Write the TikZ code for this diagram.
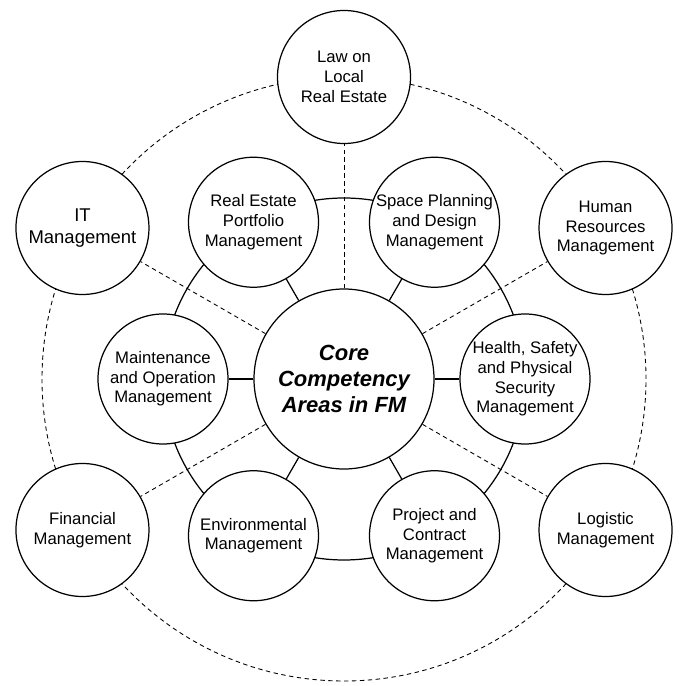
\documentclass[tikz,border=0pt]{standalone}
\usepackage{fontspec}
\setmainfont{Liberation Sans}
\usetikzlibrary{backgrounds}

\begin{document}
\begin{tikzpicture}[
    core/.style={circle, draw, fill=white, line width=0.7pt, minimum size=3.6cm,
                 inner sep=0pt, align=center,
                 font=\fontsize{12.5}{15}\selectfont\bfseries\itshape},
    area/.style={circle, draw, fill=white, line width=0.7pt, minimum size=2.6cm,
                 inner sep=0pt, align=center, font=\fontsize{9.5}{11.2}\selectfont},
    outer/.style={area, minimum size=2.66cm},
    spoke/.style={line width=0.7pt},
    link/.style={line width=0.5pt, dash pattern=on 2.5pt off 2pt},
]
\useasboundingbox (-6.88,-6.14) rectangle (6.74,7.58);

% Centre
\node[core] (core) at (0,0) {Core\\Competency\\Areas in FM};

% Inner ring of competency areas
\node[area] (portfolio) at (120:3.62) {Real Estate\\Portfolio\\Management};
\node[area] (space)     at (60:3.62)  {Space Planning\\and Design\\Management};
\node[area] (health)    at (0:3.62)   {Health, Safety\\and Physical\\Security\\Management};
\node[area] (project)   at (-60:3.62) {Project and\\Contract\\Management};
\node[area] (environ)   at (-120:3.62) {Environmental\\Management};
\node[area] (maint)     at (180:3.62) {Maintenance\\and Operation\\Management};

% Outer ring
\node[outer] (law)      at (90:6.04)  {Law on\\Local\\Real Estate};
\node[outer] (hr)       at (30:6.04)  {Human\\Resources\\Management};
\node[outer] (logistic) at (-30:6.04) {Logistic\\Management};
\node[outer] (finance)  at (210:6.04) {Financial\\Management};
\node[outer, font=\fontsize{10.5}{12.8}\selectfont] (it) at (150:6.04) {IT\\Management};

\begin{scope}[on background layer]
    % rings
    \draw[link] (core.center) circle (6.04);
    \draw[spoke] (core.center) circle (3.62);
    % spokes to inner areas
    \draw[spoke] (core) -- (portfolio);
    \draw[spoke] (core) -- (space);
    \draw[spoke] (core) -- (health);
    \draw[spoke] (core) -- (project);
    \draw[spoke] (core) -- (environ);
    \draw[spoke] (core) -- (maint);
    % dashed links to outer areas
    \draw[link] (core) -- (law);
    \draw[link] (core) -- (hr);
    \draw[link] (core) -- (logistic);
    \draw[link] (core) -- (finance);
    \draw[link] (core) -- (it);
\end{scope}

\end{tikzpicture}
\end{document}
